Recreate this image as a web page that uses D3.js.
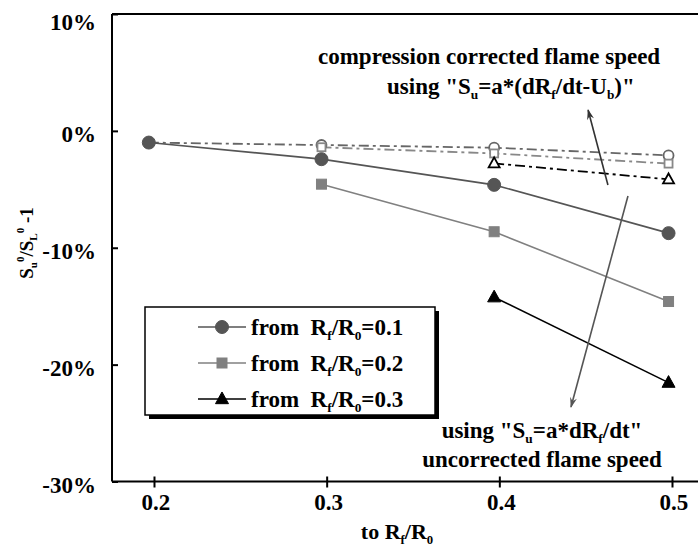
<!DOCTYPE html>
<html><head><meta charset="utf-8">
<script src="https://cdn.jsdelivr.net/npm/d3@7"></script>
<style>
html,body{margin:0;padding:0;background:#fff;}
svg{display:block;font-family:"Liberation Serif","Times New Roman",serif;font-weight:bold;}
</style></head>
<body>
<svg id="c" width="698" height="549"></svg>
<script>
// ---- data ----
const yTicks = [0.1, 0, -0.1, -0.2, -0.3];
const yTickLabels = ["10%", "0%", "-10%", "-20%", "-30%"];
const xTicks = [0.2, 0.3, 0.4, 0.5];
const xTickLabels = ["0.2", "0.3", "0.4", "0.5"];

// uncorrected (solid) series
const s1x = [0.197, 0.297, 0.397, 0.498];
const s1y = [-0.010, -0.0242, -0.0462, -0.0875];
const s2x = [0.297, 0.397, 0.498];
const s2y = [-0.0456, -0.0863, -0.146];
const s3x = [0.397, 0.498];
const s3y = [-0.1423, -0.2154];
// compression-corrected (dash-dot) series
const c1x = [0.197, 0.297, 0.397, 0.498];
const c1y = [-0.010, -0.0121, -0.0144, -0.021];
const c2x = [0.297, 0.397, 0.498];
const c2y = [-0.014, -0.0193, -0.028];
const c3x = [0.397, 0.498];
const c3y = [-0.0278, -0.0415];

const legendLabels = ["0.1", "0.2", "0.3"];

const FS = 23;

// ---- scales ----
const svg = d3.select("#c");
const x = d3.scaleLinear().domain([0.17568, 0.51506]).range([112, 698]);
const y = d3.scaleLinear().domain([-0.3, 0.1]).range([481.5, 14]);

// rich text helper: segments [text, kind] kind: null|'sub'|'sup'
function rich(sel, segs, fs) {
  let shift = 0;
  segs.forEach(([t, k]) => {
    const target = k === 'sub' ? fs * 0.22 : k === 'sup' ? -fs * 0.45 : 0;
    sel.append("tspan").attr("dy", target - shift)
      .attr("font-size", k ? fs * 0.58 : fs).text(t);
    shift = target;
  });
  return sel;
}

// ---- axes ----
const g = svg.append("g");
// top border
g.append("line").attr("x1", x.range()[0]).attr("x2", x.range()[1])
  .attr("y1", y(0.1)).attr("y2", y(0.1)).attr("stroke", "#000").attr("stroke-width", 2);

const yAxis = d3.axisRight(y).tickValues(yTicks).tickSize(6).tickFormat("");
const ya = g.append("g").attr("transform", `translate(${x.range()[0]},0)`).call(yAxis);
ya.select(".domain").attr("stroke-width", 2).attr("d", `M0,${y(0.1)}V${y(-0.3)}`);
ya.selectAll(".tick line").attr("stroke-width", 2);
yTicks.forEach((v, i) => {
  g.append("text").attr("x", 96).attr("y", y(v) + (i === 0 ? 16 : 11)).attr("text-anchor", "end")
    .attr("font-size", FS).text(yTickLabels[i]);
});

const xAxis = d3.axisBottom(x).tickValues(xTicks).tickSize(6).tickFormat("");
const xa = g.append("g").attr("transform", `translate(0,${y(-0.3)})`).call(xAxis);
xa.select(".domain").attr("stroke-width", 2).attr("d", `M${x.range()[0]},0H${x.range()[1]}`);
xa.selectAll(".tick line").attr("stroke-width", 2).attr("y1", -5).attr("y2", 6);
xTicks.forEach((v, i) => {
  g.append("text").attr("x", x(v) + 2).attr("y", 510).attr("text-anchor", "middle")
    .attr("font-size", FS).text(xTickLabels[i]);
});

// axis titles
rich(svg.append("text").attr("x", 397).attr("y", 539).attr("text-anchor", "middle"),
  [["to R", null], ["f", "sub"], ["/R", null], ["0", "sub"]], 22);
rich(svg.append("text").attr("transform", "translate(33,243) rotate(-90)").attr("text-anchor", "middle"),
  [["S", null], ["u", "sub"], ["0", "sup"], ["/S", null], ["L", "sub"], ["0", "sup"], [" -1", null]], 19);

// ---- lines ----
const line = d3.line().x(d => x(d[0])).y(d => y(d[1]));
const zip = (a, b) => a.map((v, i) => [v, b[i]]);

const corrected = [
  {d: zip(c1x, c1y), col: "#666", m: "circle"},
  {d: zip(c2x, c2y), col: "#888", m: "square"},
  {d: zip(c3x, c3y), col: "#000", m: "triangle"}
];
const solid = [
  {d: zip(s1x, s1y), col: "#555", m: "circle"},
  {d: zip(s2x, s2y), col: "#808080", m: "square"},
  {d: zip(s3x, s3y), col: "#000", m: "triangle"}
];

corrected.forEach(s => {
  svg.append("path").attr("d", line(s.d)).attr("fill", "none").attr("stroke", s.col)
    .attr("stroke-width", 1.8).attr("stroke-dasharray", "10,4,3,4");
});
solid.forEach(s => {
  svg.append("path").attr("d", line(s.d)).attr("fill", "none").attr("stroke", s.col)
    .attr("stroke-width", 1.6);
});

function marker(sel, type, cx, cy, size, fill, stroke, sw) {
  if (type === "circle") {
    sel.append("circle").attr("cx", cx).attr("cy", cy).attr("r", size / 2)
      .attr("fill", fill).attr("stroke", stroke).attr("stroke-width", sw);
  } else if (type === "square") {
    sel.append("rect").attr("x", cx - size / 2).attr("y", cy - size / 2)
      .attr("width", size).attr("height", size)
      .attr("fill", fill).attr("stroke", stroke).attr("stroke-width", sw);
  } else {
    const h = size * 0.9;
    sel.append("path").attr("d", `M${cx},${cy - h * 0.6}L${cx + size / 2},${cy + h * 0.4}L${cx - size / 2},${cy + h * 0.4}Z`)
      .attr("fill", fill).attr("stroke", stroke).attr("stroke-width", sw);
  }
}
const sizes = {circle: 13, square: 10, triangle: 13};
const openSizes = {circle: 10, square: 8, triangle: 11};
corrected.forEach(s => s.d.forEach(p => marker(svg, s.m, x(p[0]), y(p[1]), openSizes[s.m], "#fff", s.col, 1.8)));
solid.forEach(s => s.d.forEach(p => marker(svg, s.m, x(p[0]), y(p[1]), sizes[s.m], s.col, s.col, 1)));

// ---- arrows ----
const defs = svg.append("defs");
[["a1", "#333"], ["a2", "#555"]].forEach(([id, col]) => {
  defs.append("marker").attr("id", id).attr("viewBox", "0 0 12 8").attr("refX", 11).attr("refY", 4)
    .attr("markerWidth", 12).attr("markerHeight", 7).attr("markerUnits", "userSpaceOnUse")
    .attr("orient", "auto")
    .append("path").attr("d", "M0,0L12,4L0,8L4,4Z").attr("fill", col);
});
svg.append("line").attr("x1", x(0.4629)).attr("y1", y(-0.0463)).attr("x2", x(0.4514)).attr("y2", y(0.0179))
  .attr("stroke", "#333").attr("stroke-width", 1.6).attr("marker-end", "url(#a1)");
svg.append("line").attr("x1", x(0.4745)).attr("y1", y(-0.0557)).attr("x2", x(0.4415)).attr("y2", y(-0.2363))
  .attr("stroke", "#555").attr("stroke-width", 1.6).attr("marker-end", "url(#a2)");

// ---- annotations ----
svg.append("text").attr("x", 318).attr("y", 64).attr("font-size", FS).text("compression corrected flame speed");
rich(svg.append("text").attr("x", 387).attr("y", 94),
  [["using \"S", null], ["u", "sub"], ["=a*(dR", null], ["f", "sub"], ["/dt-U", null], ["b", "sub"], [")\"", null]], FS);
rich(svg.append("text").attr("x", 542).attr("y", 438).attr("text-anchor", "middle"),
  [["using \"S", null], ["u", "sub"], ["=a*dR", null], ["f", "sub"], ["/dt\"", null]], FS);
svg.append("text").attr("x", 542).attr("y", 467).attr("text-anchor", "middle").attr("font-size", FS)
  .text("uncorrected flame speed");

// ---- legend ----
const lg = svg.append("g");
lg.append("rect").attr("x", 149).attr("y", 311).attr("width", 290).attr("height", 108).attr("fill", "#000");
lg.append("rect").attr("x", 145).attr("y", 307).attr("width", 290).attr("height", 108)
  .attr("fill", "#fff").attr("stroke", "#000").attr("stroke-width", 1.5);
solid.forEach((s, i) => {
  const cy = 327 + i * 36;
  lg.append("line").attr("x1", 198).attr("x2", 246).attr("y1", cy).attr("y2", cy)
    .attr("stroke", s.col).attr("stroke-width", 1.6);
  marker(lg, s.m, 222, cy, sizes[s.m], s.col, s.col, 1);
  rich(lg.append("text").attr("x", 251).attr("y", cy + 8).attr("xml:space", "preserve"),
    [["from  R", null], ["f", "sub"], ["/R", null], ["0", "sub"], ["=" + legendLabels[i], null]], FS);
});
</script>
</body></html>
